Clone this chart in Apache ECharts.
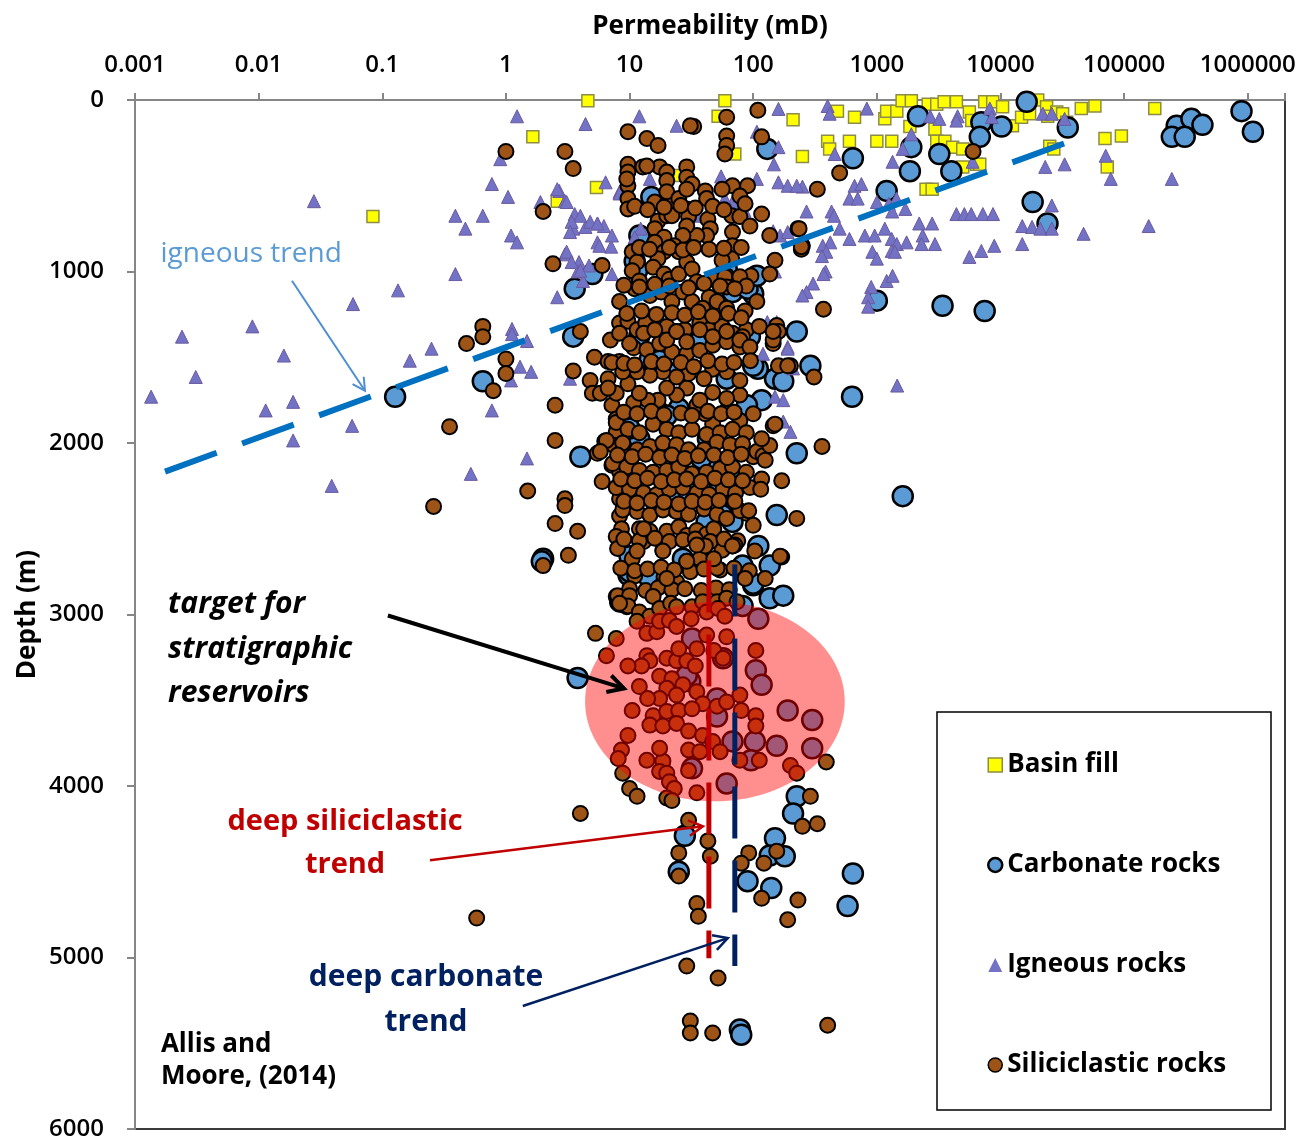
<!DOCTYPE html>
<html>
<head>
<meta charset="utf-8">
<script src="https://cdn.jsdelivr.net/npm/echarts@6/dist/echarts.min.js"></script>
<style>
  html, body { margin: 0; padding: 0; background: #fff; }
  #chart { width: 1299px; height: 1141px; }
</style>
</head>
<body>
<div id="chart"></div>
<script>
// permeability (mD), depth (m)
const basinFill = [
  [4.6, 5], [1.65, 215], [2.6, 590], [5.4, 510], [25, 440], [59, 5], [52, 95], [71, 315], [210, 115], [250, 330],
  [480, 65], [660, 100], [400, 240], [415, 285], [600, 240], [1000, 240], [1320, 240], [1160, 110], [1200, 65], [1450, 65],
  [1600, 5], [1900, 5], [1850, 155], [2600, 25], [3050, 25], [3500, 10], [4400, 10], [2950, 170], [3050, 240], [3550, 240],
  [4100, 275], [4950, 285], [4950, 390], [6400, 375], [6800, 375], [2500, 520], [2800, 520], [5600, 70], [5850, 120], [7450, 10],
  [8650, 10], [10400, 40], [12500, 150], [14800, 100], [17200, 80], [20000, 0], [23600, 40], [24100, 95], [28500, 70], [31800, 80],
  [34300, 130], [45000, 50], [58000, 35], [177000, 50], [70000, 225], [95000, 210], [73000, 390], [0.084, 680], [25000, 270], [27000, 285]
];

const carbonate = [
  [16300, 10], [2150, 95], [7000, 130], [6800, 215], [10200, 155], [35000, 160], [1900, 275], [640, 340], [3200, 315], [4000, 415],
  [1850, 415], [1200, 530], [18200, 595], [24000, 720], [1000, 1170], [3400, 1200], [7450, 1230],
  [266000, 150], [350000, 110], [430000, 145], [243000, 215], [309000, 215], [890000, 65], [1100000, 185],
  [130, 285], [3.6, 1100], [5, 1015], [15, 565], [11, 940], [100, 1130], [225, 1350], [12, 790], [68, 1120],
  [3.5, 1380], [4, 2080], [290, 1550], [225, 2060], [155, 2420], [136, 2715], [110, 2600], [150, 1625], [175, 1640], [117, 1750],
  [94, 1380], [109, 1567], [74, 2225], [68, 2460], [42, 2460], [24, 2380], [10, 2660], [9.8, 2770], [27, 2675], [14, 2775],
  [82, 2715], [100, 2830], [25, 2165], [45, 2130], [12, 1975], [17, 1815], [25, 1800], [14.6, 1510], [25, 1585], [61, 1625], [2, 2675],
  [1.95, 2690], [630, 1730], [1620, 2310], [136, 2905], [175, 2890], [100, 2820], [10, 2750], [8.4, 2925],
  [3.8, 3370], [225, 4060], [210, 4160], [150, 4305], [136, 4405], [180, 4410], [90, 4555], [140, 4595], [640, 4510], [580, 4700],
  [28, 4290], [25, 4500], [78, 5420], [80, 5450],
  [32, 3140], [110, 3025], [82, 2950], [57, 3255], [105, 3325], [117, 3410], [190, 3560], [300, 3615], [155, 3765], [300, 3780],
  [103, 3740], [96, 3850], [51, 3490], [51, 3595], [68, 3740], [32, 3897], [61, 3985], [31, 3390], [29, 3355],
  [0.127, 1730], [0.65, 1640],
  [89, 1780], [38, 2090], [56, 2420], [22, 2310], [10, 1915], [17.5, 1520], [20, 1840], [43, 1975], [30, 2285], [54, 2250],
  [12, 1375], [35, 1420], [100, 1550], [11.5, 995], [61, 985], [90, 1100], [107, 1025]
];

const igneous = [
  [0.028, 590], [1.23, 95], [4.4, 140], [12, 95], [0.9, 345], [0.77, 490], [1.04, 565], [0.39, 675], [0.65, 675], [0.47, 750],
  [1.1, 790], [1.23, 830], [0.39, 1015], [0.134, 1110], [1.9, 595], [2.7, 530], [3.0, 590], [3.5, 750], [3.6, 665], [4.4, 740],
  [5.5, 720], [6.2, 735], [5.5, 830], [7.1, 855], [6.4, 480], [8.3, 535], [3, 900], [3.9, 945], [4.7, 965], [3.8, 1000],
  [4.2, 1055], [12.3, 750], [11, 810],
  [0.058, 1190], [0.0089, 1320], [0.0024, 1380], [0.016, 1490], [0.0031, 1615], [0.00135, 1730], [0.0114, 1810], [0.019, 1760],
  [0.057, 1900], [0.019, 1985], [0.167, 1520], [0.25, 1450], [1.12, 1335], [1.12, 1365], [0.77, 1810], [1.48, 1405], [1.3, 1555],
  [1.6, 1585], [1.1, 1635], [2.6, 1150], [3.3, 1625], [1.48, 2090], [0.52, 2180], [0.039, 2250],
  [400, 35], [415, 80], [830, 50], [1900, 200], [1620, 285], [2700, 95], [3200, 110], [4500, 95], [4400, 120], [8200, 50],
  [8500, 100], [22000, 80], [26000, 80], [33000, 110], [5950, 360], [1340, 360], [456, 315], [23000, 390], [33000, 375],
  [71000, 325], [78000, 460], [243000, 460],
  [660, 500], [750, 490], [600, 575], [700, 575], [250, 505], [270, 650], [430, 650], [450, 675], [1000, 595], [1250, 605],
  [1440, 575], [1700, 635], [1330, 650],
  [4400, 665], [5100, 665], [5800, 665], [7200, 665], [8700, 665], [26000, 615], [2200, 720], [2800, 720], [15000, 735],
  [18000, 740], [21000, 750], [26000, 750], [47000, 780], [158000, 735],
  [500, 750], [600, 810], [800, 790], [960, 790], [1160, 750], [1320, 810], [1450, 840], [1740, 830], [2350, 790], [2950, 840],
  [2300, 840], [420, 830], [365, 850], [390, 885], [360, 910], [920, 885], [1000, 925], [1320, 880], [1400, 885], [7000, 880],
  [8900, 850], [15000, 840], [5600, 915], [385, 1000], [370, 1015], [305, 1070], [270, 1120], [250, 1140], [900, 1090],
  [850, 1150], [850, 1205], [1200, 1055], [1340, 1025], [1460, 1665],
  [24, 150], [160, 52], [107, 185], [160, 275], [147, 375], [55, 445], [107, 460], [160, 480], [190, 500], [225, 500],
  [2.6, 520], [3.1, 595], [4, 675], [3.4, 710], [4.8, 710], [5.5, 720], [7.2, 790], [5.7, 850], [3.3, 770], [3.1, 885],
  [3.4, 945], [4, 995], [7.2, 1015], [8.3, 545], [11, 605], [14.6, 460], [11, 800], [145, 765], [165, 790], [190, 770],
  [150, 1000], [155, 1295], [68, 595], [85, 645], [59, 575], [35, 675],
  [120, 1480], [190, 1440], [150, 1730], [175, 1750], [175, 1875], [200, 1935], [210, 1565], [130, 1295], [190, 1450]
];

const siliciclastic = [
  [1.0, 300], [3.0, 300], [3.5, 400], [2.0, 650], [2.4, 955], [0.65, 1320], [0.65, 1380], [0.48, 1420], [1.0, 1510], [1.0, 1595],
  [0.79, 1695], [3.5, 1580], [2.5, 1780], [0.35, 1905], [2.5, 1985], [1.5, 2280], [3, 2325], [3, 2365], [0.26, 2370], [2.5, 2470],
  [3.8, 2515], [3.2, 2655], [2, 2715],
  [9.7, 185], [13.8, 225], [17, 265], [33, 155], [61, 100], [61, 210], [61, 265], [59, 315], [109, 60], [117, 215],
  [9.7, 375], [9.7, 420], [9.7, 500], [9.7, 575], [9.7, 635], [12.8, 390], [17.5, 390], [20, 420], [20, 470], [29, 390],
  [29, 450], [32, 490], [41, 530], [68, 500], [90, 500], [330, 520], [6, 965],
  [16, 595], [20, 605], [17, 705], [20, 675], [22, 675], [29, 635], [30, 680], [43, 695], [45, 750], [42, 790],
  [35, 790], [29, 735], [27, 790], [67, 675], [78, 680], [117, 665], [94, 735], [136, 790], [150, 935], [230, 750],
  [250, 850], [68, 770], [68, 850], [67, 925], [56, 935], [61, 1025],
  [16, 750], [19, 800], [16, 830], [19, 885], [17, 925], [23, 850], [25, 885], [10.5, 885], [11.5, 945], [10.5, 995],
  [15.5, 975], [19, 1015], [21, 1045], [25, 1015], [29, 945], [32, 985], [35, 1060], [47, 1045], [59, 1030], [61, 1090],
  [44, 1150], [8.3, 1175], [11, 1100], [12, 1055],
  [14.6, 1140], [18, 1120], [22, 1175], [27, 1120], [32, 1175], [39, 1215], [51, 1175], [61, 1215], [86, 1230], [107, 1175],
  [155, 1315], [4, 1350],
  [8.3, 1300], [9.7, 1290], [11.5, 1340], [13.5, 1300], [16, 1340], [20, 1320], [24, 1350], [28, 1340], [37, 1300], [44, 1340],
  [56, 1320], [68, 1360], [88, 1340], [112, 1320], [160, 1350],
  [20, 535], [25, 575], [29, 520], [42, 575], [9.5, 460], [13.8, 385], [56, 520], [78, 560], [86, 605], [136, 1015],
  [96, 1025], [78, 1030], [88, 1085], [245, 870], [500, 425], [235, 750], [245, 855], [31, 150], [6000, 300], [370, 1220],
  [5.2, 1500], [6.7, 1525], [8.3, 1525], [9.5, 1580], [4.8, 1635], [6.7, 1625], [5, 1710], [5.8, 1710], [7.2, 1780], [6, 2225],
  [5.5, 2060], [7.8, 1860], [7.8, 1935], [6.3, 1990], [7.5, 2015], [7.2, 2130], [8.3, 2165], [9, 2075], [9.7, 2220], [8.3, 2325],
  [8.3, 2425], [8.6, 2500], [7.8, 2545], [8, 2615], [12, 2500], [14.6, 2515], [13, 2575], [10.5, 2675], [11, 2775], [18.6, 2625],
  [20, 2515], [25, 2490], [29, 2540], [35, 2510], [42, 2530], [48, 2500], [68, 2600], [40, 2600], [19, 2780], [24, 2810],
  [29, 2690], [37, 2675], [56, 2625], [88, 2410], [100, 2480], [78, 2395], [68, 2340], [170, 2220], [112, 2250], [117, 2210],
  [225, 2440], [100, 2080], [107, 2050], [120, 2075], [136, 2015], [117, 1975], [145, 1900], [150, 1890], [360, 2020], [310, 1615],
  [200, 1550], [160, 1550], [100, 1830], [78, 1870], [61, 1810], [47, 1890], [41, 1830], [35, 1780],
  [78, 1720], [61, 1740], [47, 1705], [37, 1750], [29, 1680], [24, 1720], [20, 1680], [17, 1750], [14, 1750], [10.8, 1765],
  [12, 1710], [9.7, 1655], [7.8, 1710], [6.7, 1680],
  [78, 1635], [61, 1585], [47, 1570], [40, 1625], [30, 1595], [24, 1615], [18.6, 1585], [14.6, 1605], [11.5, 1585], [8.8, 1585],
  [7.2, 1530], [10.8, 1445], [13.8, 1455], [17.5, 1420], [22, 1470], [29, 1480], [37, 1460], [47, 1430], [61, 1410], [78, 1440],
  [82, 1380], [145, 1420], [190, 1550],
  [7.8, 1880], [9.7, 1920], [12, 1940], [15.5, 1890], [20, 1920], [25, 1940], [32, 1920], [42, 1950], [54, 1940], [68, 1920], [88, 1940],
  [6.5, 1985], [8.8, 2000], [11.5, 2040], [14.6, 2020], [18.6, 2000], [24, 2010], [30, 2040], [40, 2040], [51, 1995], [65, 2010], [82, 2005],
  [7.3, 2120], [9.5, 2140], [12, 2160], [15.5, 2170], [20, 2160], [25, 2140], [32, 2180], [42, 2170], [54, 2150], [68, 2140], [88, 2170],
  [7.8, 2260], [10, 2270], [13, 2290], [16.6, 2300], [21, 2270], [27, 2260], [35, 2290], [44, 2300], [57, 2270], [72, 2290], [94, 2260],
  [8.8, 2390], [11.5, 2400], [14.6, 2420], [18.6, 2390], [24, 2400], [30, 2415], [40, 2385], [51, 2415], [61, 2440],
  [7, 1400], [8.3, 1360], [10, 1420], [13, 1360], [16, 1340], [20, 1400], [24, 1350], [29, 1410], [37, 1340], [47, 1380],
  [61, 1350], [78, 1400], [94, 1440], [145, 1400],
  [9, 1080], [12, 1090], [16, 1075], [21, 1085], [30, 1095], [40, 1070], [54, 1085], [71, 1100],
  [9.5, 1245], [12.5, 1230], [16.5, 1250], [22, 1240], [28, 1255], [36, 1235], [47, 1260], [63, 1245], [80, 1270],
  [9, 1535], [11, 1545], [15, 1525], [19, 1540], [26, 1530], [33, 1555], [43, 1520], [56, 1540], [70, 1530], [95, 1520],
  [9, 1820], [11.5, 1830], [15, 1815], [19, 1835], [26, 1825], [32, 1840], [43, 1815], [55, 1830], [70, 1820],
  [8, 2070], [10.5, 2080], [13.5, 2065], [17.5, 2085], [22, 2070], [28, 2090], [36, 2075], [48, 2070], [62, 2085], [80, 2065],
  [8.5, 2210], [11, 2220], [14, 2205], [18, 2225], [23, 2215], [29, 2210], [38, 2225], [49, 2205], [63, 2215], [82, 2220],
  [9, 2340], [11.5, 2350], [15, 2335], [19, 2345], [25, 2355], [32, 2340], [41, 2345], [53, 2335],
  [9, 2560], [12, 2570], [16, 2555], [21, 2575], [27, 2565], [34, 2560], [45, 2575], [58, 2560], [75, 2570],
  [8.5, 2730], [11, 2745], [14, 2735], [18, 2725], [23, 2740], [31, 2750], [40, 2735], [54, 2740], [70, 2730], [93, 2745],
  [10, 2850], [13.5, 2860], [17, 2845], [22, 2855], [28, 2850], [38, 2860], [50, 2845], [64, 2855],
  [11, 620], [14, 640], [19, 625], [26, 615], [34, 630], [47, 620], [58, 640],
  [12, 860], [14.5, 870], [21, 860], [27, 875], [33, 860], [44, 870], [58, 865], [80, 860],
  [170, 2665], [125, 2100], [115, 2270], [71, 2340], [92, 2395], [71, 2595], [103, 2630], [145, 1350], [165, 2660],
  [7.8, 2895], [9.5, 2905], [9.5, 2955], [15.5, 2895], [20, 2790], [29, 2690], [41, 2600], [51, 2730], [68, 2600], [86, 2790],
  [125, 2790], [11.5, 2630], [13, 2500], [18.6, 2630], [5.8, 2050], [35, 2595], [48, 2675],
  [5.3, 3110], [8, 2890], [10, 2890], [9.7, 2950], [8.3, 2935], [12, 2985], [14.6, 3010], [17.5, 2965], [21.5, 2935], [24, 2955],
  [32, 2955], [39, 2925], [51, 2925], [61, 2905], [74, 2925],
  [11.5, 3040], [13.8, 3110], [16.6, 3100], [17.5, 3040], [21, 3035], [24, 3070], [31.5, 3025], [42, 2985], [52, 2965], [59, 3010],
  [7.8, 3140], [6.5, 3240],
  [13.8, 3240], [14.6, 3270], [12.5, 3300], [9.7, 3300], [20, 3255], [24, 3270], [29, 3270], [34, 3300], [25, 3200], [35, 3200],
  [42, 3120], [48, 3210], [57, 3255], [61, 3130], [105, 3210], [12, 3420],
  [17.5, 3360], [22, 3375], [27, 3410], [20, 3430], [24, 3470], [17.5, 3490], [14, 3490], [10.5, 3560], [35, 3450], [39, 3520],
  [51, 3535], [61, 3510], [80, 3560], [105, 3590], [105, 3650], [78, 3470],
  [15.5, 3590], [20, 3565], [25, 3560], [32, 3550], [14.6, 3645], [18.6, 3650], [24, 3635], [30, 3680], [39, 3705], [9.7, 3705],
  [8.6, 3790], [8.1, 3840], [13.8, 3850], [18.6, 3855], [17.5, 3915], [20, 3925], [17.5, 3780],
  [30, 3790], [37, 3800], [47, 3740], [54, 3800], [78, 3850], [112, 3850], [200, 3880], [225, 3925],
  [8.8, 3925], [10, 4015], [11.5, 4060], [21, 3975], [23, 4015], [35, 4040], [20, 4070], [30, 3910],
  [4, 4160], [22, 4085], [30, 4200], [43, 4320], [45, 4410], [25, 4390], [25, 4525], [35, 4685], [36, 4760], [92, 4390],
  [80, 4450], [122, 4450], [155, 4380], [117, 4655], [230, 4665], [190, 4780], [290, 4060], [250, 4235], [330, 4220], [390, 3860],
  [29, 5050], [52, 5120], [31, 5370], [31, 5440], [47, 5440], [400, 5395], [0.58, 4770]
];

// trend lines [permeability, depth]
const igneousTrend = [[0.00175, 2167], [47900, 210]];
const siliciclasticTrend = [[43.8, 2685], [43.8, 5004]];
const carbonateTrend = [[71, 2709], [71, 5050]];

const seriesNames = ['Basin fill', 'Carbonate rocks', 'Igneous rocks', 'Siliciclastic rocks'];
const xTicks = [0.001, 0.01, 0.1, 1, 10, 100, 1000, 10000, 100000, 1000000];

const FONT = '"Open Sans", "DejaVu Sans", sans-serif';

const chart = echarts.init(document.getElementById('chart'));

const option = {
  backgroundColor: '#fff',
  animation: false,
  grid: {
    left: 135, right: 14, top: 100, bottom: 9,
    show: true, borderColor: '#3a3a3a', borderWidth: 2, backgroundColor: 'transparent'
  },
  xAxis: {
    type: 'log',
    logBase: 10,
    position: 'top',
    min: 0.001,
    max: 2000000,
    name: 'Permeability (mD)',
    nameLocation: 'middle',
    nameGap: 60,
    nameMoveOverlap: false,
    nameTextStyle: { fontFamily: FONT, fontSize: 26, fontWeight: 'bold', color: '#000' },
    axisLine: { show: true, lineStyle: { color: '#868686', width: 2 } },
    axisTick: { show: true, inside: false, length: 7, lineStyle: { color: '#868686', width: 2 } },
    axisLabel: {
      margin: 23,
      fontFamily: FONT, fontSize: 24, fontWeight: 600, color: '#000',
      formatter: v => {
        const n = Number(v.toPrecision(6));
        return xTicks.indexOf(n) >= 0 ? String(n) : '';
      }
    },
    splitLine: { show: false },
    minorTick: { show: false }
  },
  yAxis: {
    type: 'value',
    inverse: true,
    min: 0,
    max: 6000,
    interval: 1000,
    name: 'Depth (m)',
    nameLocation: 'middle',
    nameRotate: 90,
    nameGap: 94,
    nameMoveOverlap: false,
    nameTextStyle: { fontFamily: FONT, fontSize: 26, fontWeight: 'bold', color: '#000' },
    axisLine: { show: true, lineStyle: { color: '#868686', width: 2 } },
    axisTick: { show: true, inside: false, length: 8, lineStyle: { color: '#868686', width: 2 } },
    axisLabel: {
      margin: 31,
      fontFamily: FONT, fontSize: 24, fontWeight: 600, color: '#000',
      formatter: v => String(v)
    },
    splitLine: { show: false }
  },
  legend: {
    orient: 'vertical',
    left: 982,
    top: 745,
    itemWidth: 14,
    itemHeight: 14,
    itemGap: 70,
    selectedMode: false,
    textStyle: { fontFamily: FONT, fontSize: 26, fontWeight: 'bold', color: '#000', lineHeight: 30 },
    data: [
      { name: seriesNames[0], itemStyle: { borderWidth: 1.5 } },
      { name: seriesNames[1], itemStyle: { borderWidth: 2.5 } },
      { name: seriesNames[2], itemStyle: { borderWidth: 0 } },
      { name: seriesNames[3], itemStyle: { borderWidth: 1.5 } }
    ]
  },
  series: [
    {
      name: seriesNames[0], type: 'scatter', symbol: 'rect', symbolSize: 12, data: basinFill,
      itemStyle: { color: '#FFFF00', borderColor: '#8C8C46', borderWidth: 1.5, opacity: 1 }
    },
    {
      name: seriesNames[1], type: 'scatter', symbol: 'circle', symbolSize: 20, data: carbonate,
      itemStyle: { color: '#5B9BD5', borderColor: '#000', borderWidth: 2.5, opacity: 1 }
    },
    {
      name: seriesNames[2], type: 'scatter', symbol: 'triangle', symbolSize: 13, data: igneous,
      itemStyle: { color: '#7373C6', borderColor: '#6A5A9E', borderWidth: 1, opacity: 1 }
    },
    {
      name: seriesNames[3], type: 'scatter', symbol: 'circle', symbolSize: 15, data: siliciclastic,
      itemStyle: { color: '#9E5416', borderColor: '#000', borderWidth: 2, opacity: 1 }
    },
    {
      name: 'igneous trend', type: 'line', data: igneousTrend, symbol: 'none', z: 10, silent: true,
      lineStyle: { color: '#0070C0', width: 6, type: [55, 27], cap: 'butt' }
    },
    {
      name: 'deep siliciclastic trend', type: 'line', data: siliciclasticTrend, symbol: 'none', z: 10, silent: true,
      lineStyle: { color: '#C00000', width: 5, type: [52, 22], cap: 'butt' }
    },
    {
      name: 'deep carbonate trend', type: 'line', data: carbonateTrend, symbol: 'none', z: 10, silent: true,
      lineStyle: { color: '#002060', width: 5, type: [52, 22], cap: 'butt' }
    }
  ]
};

chart.setOption(option);

// annotations, anchored in data coordinates
const px = p => chart.convertToPixel({ xAxisIndex: 0, yAxisIndex: 0 }, p);

function arrow(from, to, color, width, head) {
  const a = px(from), b = px(to);
  const ang = Math.atan2(b[1] - a[1], b[0] - a[0]);
  const s = 0.5;
  const p1 = [b[0] - head * Math.cos(ang - s), b[1] - head * Math.sin(ang - s)];
  const p2 = [b[0] - head * Math.cos(ang + s), b[1] - head * Math.sin(ang + s)];
  return [
    { type: 'line', z: 30, shape: { x1: a[0], y1: a[1], x2: b[0], y2: b[1] }, style: { stroke: color, lineWidth: width } },
    { type: 'polyline', z: 30, shape: { points: [p1, b, p2] }, style: { stroke: color, lineWidth: width, fill: null } }
  ];
}

function label(at, text, font, color, align) {
  const p = px(at);
  return {
    type: 'text', z: 30, x: p[0], y: p[1],
    style: { text: text, font: font, fill: color, align: align || 'center', verticalAlign: 'middle' }
  };
}

const c = px([49, 3507]);
const cx = px([550, 3507]);
const cy = px([49, 4089]);

const graphic = [
  {
    type: 'ellipse', z: 5, silent: true,
    shape: { cx: c[0], cy: c[1], rx: cx[0] - c[0], ry: cy[1] - c[1] },
    style: { fill: 'rgba(255, 0, 0, 0.44)' }
  },
  {
    type: 'rect', z: 1, silent: true,
    shape: { x: 937, y: 712, width: 334, height: 398 },
    style: { fill: '#fff', stroke: '#000', lineWidth: 1.5 }
  },
  label([0.0087, 897], 'igneous trend', '28px ' + FONT, '#5B9BD5'),
  label([0.00185, 2942], 'target for', 'italic bold 30px ' + FONT, '#000', 'left'),
  label([0.00185, 3204], 'stratigraphic', 'italic bold 30px ' + FONT, '#000', 'left'),
  label([0.00185, 3460], 'reservoirs', 'italic bold 30px ' + FONT, '#000', 'left'),
  label([0.05, 4206], 'deep siliciclastic', 'bold 29px ' + FONT, '#C00000'),
  label([0.05, 4462], 'trend', 'bold 29px ' + FONT, '#C00000'),
  label([0.226, 5114], 'deep carbonate', 'bold 30px ' + FONT, '#002060'),
  label([0.226, 5376], 'trend', 'bold 30px ' + FONT, '#002060'),
  label([0.00162, 5510], 'Allis and', 'bold 26px ' + FONT, '#000', 'left'),
  label([0.00162, 5697], 'Moore, (2014)', 'bold 26px ' + FONT, '#000', 'left')
]
  .concat(arrow([0.0186, 1054], [0.0724, 1695], '#4F8ED0', 2, 14))
  .concat(arrow([0.111, 3006], [9.0, 3431], '#000', 4, 18))
  .concat(arrow([0.243, 4433], [39.2, 4235], '#C00000', 2.5, 16))
  .concat(arrow([1.37, 5283], [62.3, 4887], '#002060', 2.5, 16));

chart.setOption({ graphic: graphic });
</script>
</body>
</html>
